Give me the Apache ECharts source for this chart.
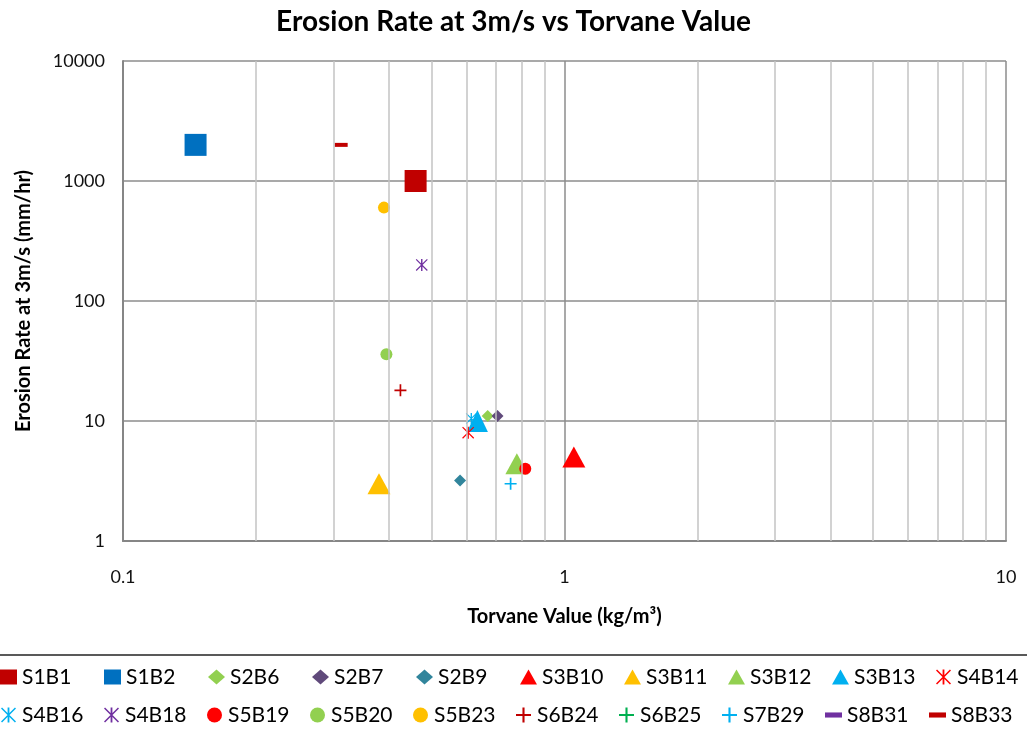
<!DOCTYPE html>
<html>
<head>
<meta charset="utf-8">
<script src="https://cdn.jsdelivr.net/npm/echarts@6/dist/echarts.min.js"></script>
<style>
  html, body { margin: 0; padding: 0; background: #fff; }
  #chart { width: 1027px; height: 733px; }
</style>
</head>
<body>
<div id="chart"></div>
<script>
// sample names, one point each (null = no point plotted)
const sampleNames = ["S1B1", "S1B2", "S2B6", "S2B7", "S2B9", "S3B10", "S3B11", "S3B12", "S3B13", "S4B14",
  "S4B16", "S4B18", "S5B19", "S5B20", "S5B23", "S6B24", "S6B25", "S7B29", "S8B31", "S8B33"];
const torvane = [0.46, 0.146, 0.67, 0.705, 0.58, 1.05, 0.38, 0.78, 0.635, 0.605,
  0.615, 0.475, 0.815, 0.395, 0.39, 0.425, null, 0.755, null, 0.312];
const erosion = [1000, 2000, 11, 11, 3.2, 5, 3, 4.4, 10, 8,
  10.5, 200, 4, 36, 600, 18, null, 3, null, 2000];
const minorGrid = [0.2, 0.3, 0.4, 0.5, 0.6, 0.7, 0.8, 0.9, 2, 3, 4, 5, 6, 7, 8, 9];

const PLUS = "path://M4.3,0H5.7V4.3H10V5.7H5.7V10H4.3V5.7H0V4.3H4.3Z";
const STAR = "path://M0,0.7L0.7,0L10,9.3L9.3,10Z M0.7,10L0,9.3L9.3,0L10,0.7Z M4.4,0H5.6V10H4.4Z";
const DASH = "path://M0,0H10V3H0Z";

// marker look for each sample
const markers = {
  S1B1: ["rect", 22, "#C00000"],
  S1B2: ["rect", 22, "#0070C0"],
  S2B6: ["diamond", 12, "#92D050"],
  S2B7: ["diamond", 12, "#604A7B"],
  S2B9: ["diamond", 12, "#31859C"],
  S3B10: ["triangle", [23, 21], "#FF0000"],
  S3B11: ["triangle", [23, 21], "#FFC000"],
  S3B12: ["triangle", [23, 21], "#92D050"],
  S3B13: ["triangle", [21, 22], "#00B0F0"],
  S4B14: [STAR, 12, "#FF0000"],
  S4B16: [STAR, 11, "#00B0F0"],
  S4B18: [STAR, 12, "#7030A0"],
  S5B19: ["circle", 12, "#FF0000"],
  S5B20: ["circle", 12, "#92D050"],
  S5B23: ["circle", 12, "#FFC000"],
  S6B24: [PLUS, 12, "#C00000"],
  S6B25: [PLUS, 12, "#00B050"],
  S7B29: [PLUS, 12, "#00B0F0"],
  S8B31: [DASH, [13, 4], "#7030A0"],
  S8B33: [DASH, [13, 4], "#C00000"]
};

const font = "Lato, 'Open Sans', sans-serif";

const chart = echarts.init(document.getElementById("chart"), null, { renderer: "canvas" });

const series = [{
  name: "_grid",
  type: "scatter",
  data: [],
  silent: true,
  z: 1,
  markLine: {
    silent: true,
    symbol: ["none", "none"],
    label: { show: false },
    lineStyle: { color: "#c3c3c3", width: 1.5, type: "solid" },
    data: minorGrid.map(v => ({ xAxis: v }))
  }
}];

sampleNames.forEach((name, i) => {
  const m = markers[name];
  series.push({
    name: name,
    type: "scatter",
    z: 3,
    symbol: m[0],
    symbolSize: m[1],
    itemStyle: { color: m[2], opacity: 1 },
    data: torvane[i] == null ? [] : [[torvane[i], erosion[i]]]
  });
});

chart.setOption({
  animation: false,
  backgroundColor: "#fff",
  title: {
    text: "Erosion Rate at 3m/s vs Torvane Value",
    left: "center",
    top: 3,
    textStyle: { fontFamily: font, fontSize: 28, fontWeight: "bold", color: "#000" }
  },
  grid: { left: 123, right: 21, top: 61, bottom: 192 },
  xAxis: {
    type: "log",
    logBase: 10,
    min: 0.1,
    max: 10,
    name: "Torvane Value (kg/m\u00b3)",
    nameLocation: "middle",
    nameGap: 66,
    nameTextStyle: { fontFamily: font, fontSize: 20, fontWeight: "bold", color: "#000" },
    axisLine: { show: true, lineStyle: { color: "#868686", width: 2 } },
    axisTick: { show: false },
    axisLabel: { margin: 27, fontFamily: font, fontSize: 18, color: "#111" },
    splitLine: { show: true, lineStyle: { color: "#8c8c8c", width: 1.5 } }
  },
  yAxis: {
    type: "log",
    logBase: 10,
    min: 1,
    max: 10000,
    name: "Erosion Rate at 3m/s (mm/hr)",
    nameLocation: "middle",
    nameGap: 89,
    nameTextStyle: { fontFamily: font, fontSize: 20, fontWeight: "bold", color: "#000" },
    axisLine: { show: true, lineStyle: { color: "#868686", width: 2 } },
    axisTick: { show: false },
    axisLabel: { margin: 18, fontFamily: font, fontSize: 18, color: "#111", formatter: v => String(v) },
    splitLine: { show: true, lineStyle: { color: "#8c8c8c", width: 1.5 } }
  },
  legend: {
    data: sampleNames,
    left: 0,
    top: 665,
    width: 1027,
    padding: 0,
    itemWidth: 17,
    itemHeight: 15,
    itemGap: 14,
    selectedMode: false,
    textStyle: { fontFamily: font, fontSize: 21, color: "#000", width: 68, lineHeight: 24 }
  },
  graphic: [{
    type: "line",
    shape: { x1: 0, y1: 655, x2: 1027, y2: 655 },
    style: { stroke: "#222", lineWidth: 1.5 }
  }],
  series: series
});
</script>
</body>
</html>
